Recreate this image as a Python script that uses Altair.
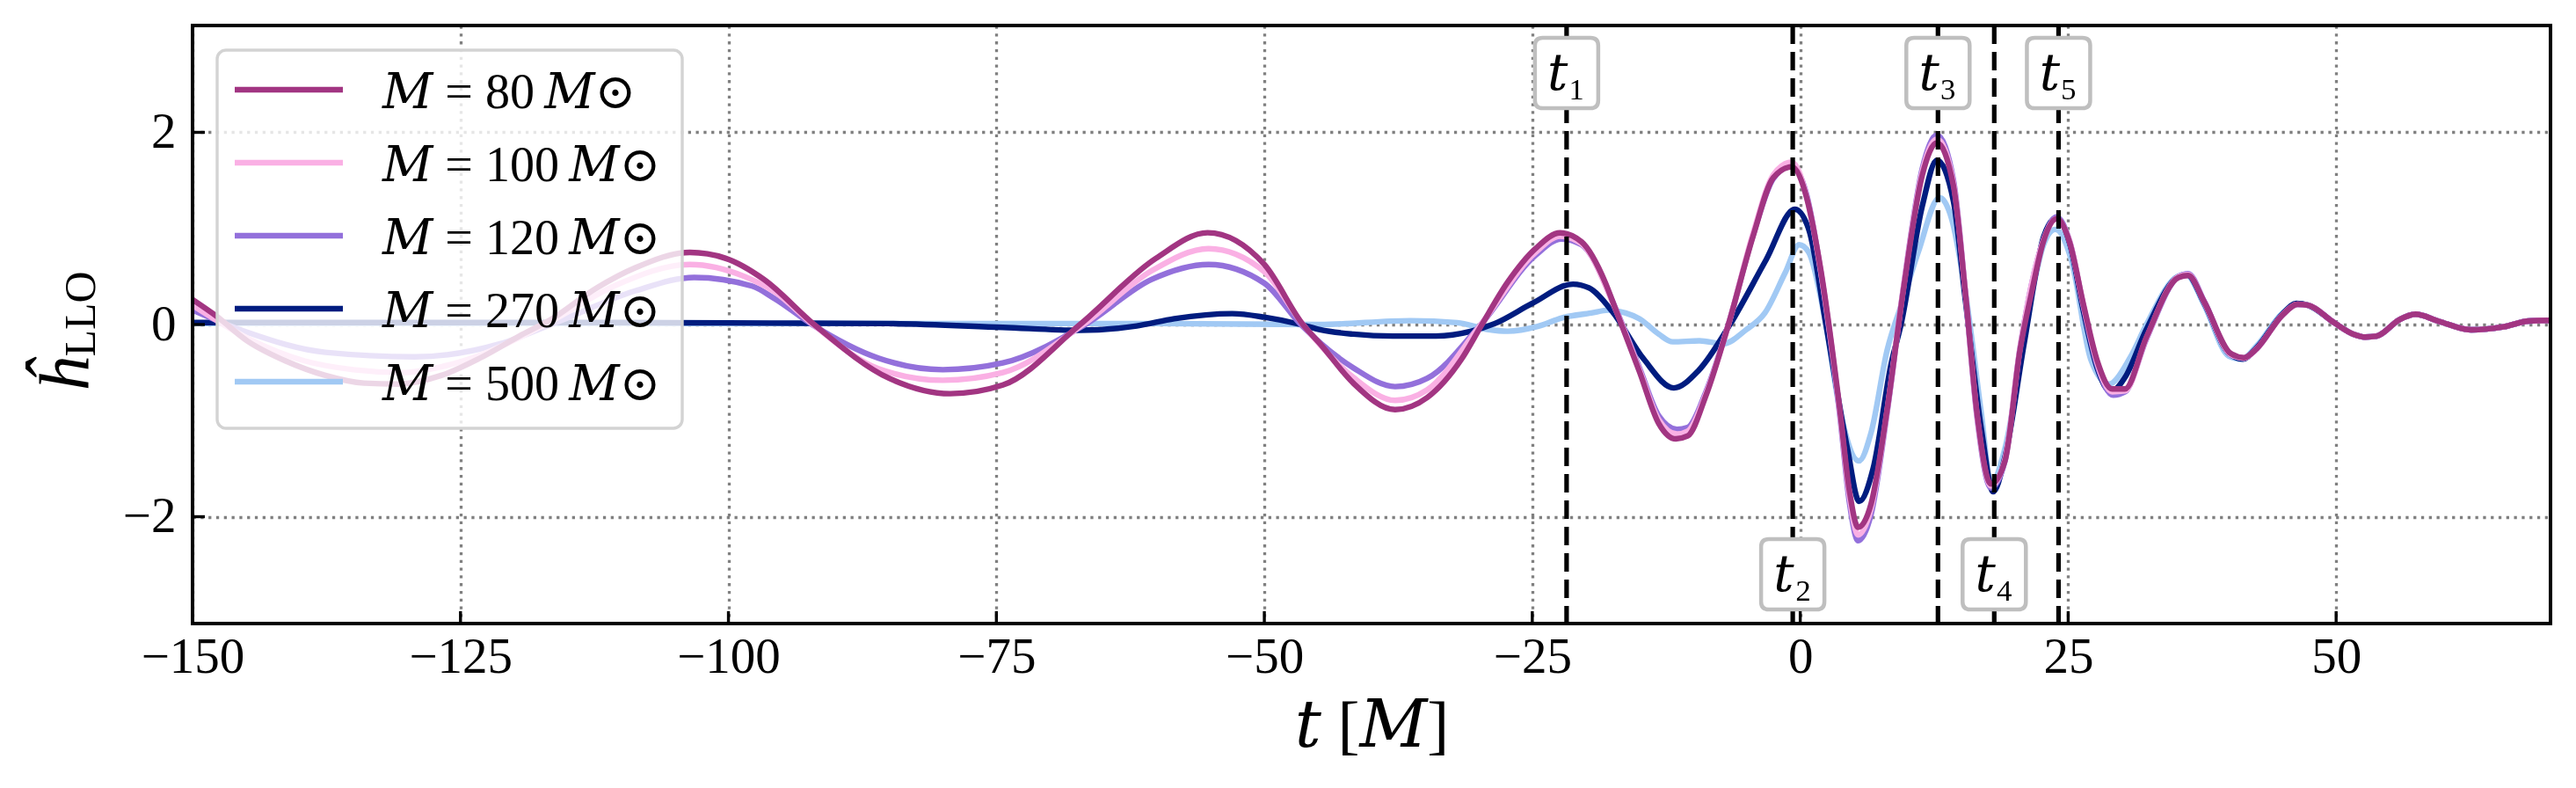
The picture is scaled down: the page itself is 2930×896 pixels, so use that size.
import altair as alt
import pandas as pd

# waveforms: t in units of M, normalised strain h
t_80 = [-150, -147.8, -144.9, -141.3, -137.6, -134.0, -130.8, -126.8, -123.2, -119.5, -116.6,
        -112.3, -108.7, -103.6, -100.3, -96.7, -92.0, -85.0, -79.3, -74.4, -67.2, -60.1, -55.3,
        -50.0, -46.4, -44.8, -41.7, -37.8, -34.8, -31.6, -29.8, -27.3, -24.7, -22.4, -20.4,
        -18.2, -17.2, -15.0, -13.2, -11.6, -10.5, -8.8, -6.7, -4.4, -2.5, -0.8, 0.6, 1.9, 3.7,
        4.6, 5.4, 6.6, 8.1, 9.6, 11.4, 12.75, 14.3, 15.4, 16.5, 17.8, 19.1, 20.5, 21.6, 22.7,
        23.9, 25.15, 26.4, 27.7, 29.1, 30.3, 32.3, 35.3, 36.2, 37.7, 40.15, 41.4, 42.6, 45.0,
        46.4, 47.4, 49.8, 51.6, 52.7, 53.8, 55.9, 57.4, 59.5, 62.6, 65.6, 68.0, 70.0]
h_80 = [0.26, 0.09, -0.17, -0.38, -0.53, -0.61, -0.62, -0.53, -0.35, -0.12, 0.05,
        0.38, 0.59, 0.75, 0.69, 0.47, 0.0, -0.56, -0.72, -0.63, 0.0, 0.69, 0.955,
        0.625, 0.0, -0.2, -0.61, -0.886, -0.76, -0.36, -0.02, 0.44, 0.79, 0.954, 0.86,
        0.44, 0.15, -0.49, -1.03, -1.19, -1.16, -0.74, 0.0, 0.92, 1.53, 1.64, 1.32, 0.58, -0.89,
        -1.74, -2.11, -1.87, -0.89, 0.34, 1.56, 1.89, 1.44, 0.34, -0.93, -1.66, -1.42, -0.27, 0.34, 0.87,
        1.1, 0.85, 0.22, -0.375, -0.67, -0.67, -0.13, 0.49, 0.51, 0.235, -0.3, -0.345, -0.25, 0.1,
        0.21, 0.2, 0.02, -0.1, -0.13, -0.12, 0.05, 0.107, 0.037, -0.055, -0.024, 0.037, 0.043]

t_100 = [-150, -144.9, -139.5, -135.0, -130.4, -126.8, -123.2, -116.6, -110.5, -103.6, -98.5,
         -95.7, -92.1, -86.0, -80.0, -74.4, -66.9, -60.5, -55.2, -50.0, -46.4, -41.7, -37.8,
         -34.8, -29.8, -24.7, -22.4, -20.4, -17.2, -15.0, -13.2, -11.5, -10.5, -8.8, -6.7, -4.4,
         -2.5, -0.8, 0.6, 1.9, 3.7, 4.6, 5.4, 6.6, 8.1, 9.6, 11.4, 12.75, 14.3, 15.4, 16.5, 17.8,
         19.1, 20.5, 22.7, 23.9, 25.15, 26.4, 27.7, 29.1, 30.3, 32.3, 35.3, 36.2, 37.7, 40.15,
         41.4, 42.6, 45.0, 46.4, 47.4, 49.8, 51.6, 52.7, 53.8, 55.9, 57.4, 59.5, 62.6, 65.6, 68.0, 70.0]
h_100 = [0.2, -0.14, -0.38, -0.47, -0.5, -0.44, -0.32, 0.03, 0.41, 0.625, 0.5,
         0.34, 0.0, -0.46, -0.58, -0.5, 0.0, 0.56, 0.79, 0.55, 0.0, -0.55, -0.79,
         -0.68, 0.0, 0.75, 0.92, 0.84, 0.15, -0.47, -0.99, -1.14, -1.11, -0.72, 0.0, 0.95,
         1.56, 1.69, 1.33, 0.56, -0.92, -1.8, -2.19, -1.92, -0.9, 0.36, 1.6, 1.93, 1.47, 0.34, -0.95, -1.68,
         -1.4, -0.25, 0.88, 1.1, 0.86, 0.21, -0.4, -0.7, -0.69, -0.14, 0.5, 0.52, 0.23, -0.31,
         -0.35, -0.25, 0.1, 0.21, 0.2, 0.02, -0.1, -0.13, -0.12, 0.05, 0.107, 0.037, -0.055, -0.024, 0.037, 0.043]

t_120 = [-150, -144.9, -137.6, -129.3, -121.3, -115.9, -108.7, -103.2, -97.8, -95.7, -92.2,
         -86.0, -80.0, -74.4, -66.7, -60.5, -55.2, -50.0, -46.6, -41.7, -37.8, -34.8, -29.8,
         -24.7, -22.3, -20.4, -17.2, -15.0, -13.2, -11.5, -10.5, -8.8, -6.7, -4.4, -2.5, -0.8,
         0.6, 1.9, 3.7, 4.6, 5.4, 6.6, 8.1, 9.6, 11.4, 12.75, 14.3, 15.4, 16.5, 17.8, 19.1, 20.5,
         22.7, 23.9, 25.15, 26.4, 27.7, 29.2, 30.3, 32.3, 35.3, 36.2, 37.7, 40.15, 41.4, 42.6,
         45.0, 46.4, 47.4, 49.8, 51.6, 52.7, 53.8, 55.9, 57.4, 59.5, 62.6, 65.6, 68.0, 70.0]
h_120 = [0.15, -0.08, -0.29, -0.336, -0.2, 0.03, 0.35, 0.49, 0.4, 0.27, 0.0,
         -0.35, -0.47, -0.4, 0.0, 0.47, 0.625, 0.43, 0.0, -0.45, -0.646, -0.56, 0.0,
         0.72, 0.89, 0.83, 0.16, -0.45, -0.95, -1.09, -1.07, -0.7, 0.0, 0.93, 1.52, 1.65,
         1.35, 0.56, -0.95, -1.86, -2.25, -1.98, -0.92, 0.36, 1.63, 1.97, 1.5, 0.34, -0.97, -1.7, -1.42, -0.25,
         0.88, 1.12, 0.86, 0.2, -0.42, -0.735, -0.7, -0.15, 0.5, 0.53, 0.24, -0.31, -0.35, -0.25,
         0.1, 0.21, 0.2, 0.02, -0.1, -0.13, -0.12, 0.05, 0.107, 0.037, -0.055, -0.024, 0.037, 0.043]

t_270 = [-150, -130, -110, -96, -85, -74.4, -67.2, -61.9, -58.4, -53.0, -50.0, -46.6, -44.8,
         -41.7, -38.0, -34.0, -30.7, -28.5, -25.0, -21.2, -19.7, -17.5, -14.6, -11.8, -9.5, -6.5,
         -3.2, -0.5, 0.8, 2.4, 4.4, 5.5, 6.8, 8.5, 9.4, 11.4, 12.75, 14.3, 15.4, 16.9, 18.0, 19.1,
         20.9, 22.7, 23.9, 25.15, 26.4, 27.7, 29.0, 30.3, 32.3, 35.3, 36.1, 37.7, 40.0, 41.3,
         42.6, 45.0, 46.3, 47.4, 49.8, 51.6, 52.7, 53.8, 55.9, 57.4, 59.5, 62.6, 65.6, 68.0, 70.0]
h_270 = [0.02, 0.02, 0.02, 0.015, 0.01, -0.03, -0.06, -0.015, 0.06, 0.113, 0.076, 0.0, -0.054,
         -0.1, -0.12, -0.12, -0.07, 0.01, 0.22, 0.42, 0.38, 0.13, -0.36, -0.66, -0.48, 0.01,
         0.67, 1.2, 0.99, 0.0, -1.29, -1.84, -1.5, -0.4, 0.0, 1.24, 1.71, 1.28, 0.26, -1.09, -1.74, -1.38,
         -0.19, 0.91, 1.11, 0.84, 0.15, -0.45, -0.7, -0.55, -0.05, 0.5, 0.52, 0.22, -0.3, -0.36,
         -0.24, 0.11, 0.22, 0.2, 0.02, -0.1, -0.13, -0.12, 0.05, 0.107, 0.037, -0.055, -0.024, 0.037, 0.043]

t_500 = [-150, -100, -60, -44.8, -36.4, -32.0, -29.2, -27.3, -24.5, -22.2, -19.5, -17.9, -16.3,
         -15.0, -13.2, -11.9, -9.4, -7.2, -5.0, -3.3, -1.4, -0.1, 0.8, 2.25, 3.7, 5.47, 6.6, 8.1,
         9.6, 11.0, 13.0, 14.1, 15.4, 16.9, 17.8, 19.1, 21.3, 22.7, 23.8, 25.3, 27.1, 28.8, 30.8,
         32.3, 35.2, 36.0, 37.7, 40.0, 41.2, 42.6, 45.0, 46.3, 47.4, 49.8, 51.6, 52.7, 53.8, 55.9,
         57.4, 59.5, 62.6, 65.6, 68.0, 70.0]
h_500 = [0.01, 0.01, 0.01, 0.0, 0.04, 0.02, -0.05, -0.07, -0.02, 0.07, 0.12, 0.15, 0.12,
         0.06, -0.1, -0.18, -0.17, -0.2, -0.05, 0.12, 0.54, 0.83, 0.75, 0.09, -0.89, -1.42, -1.13, -0.27,
         0.26, 0.75, 1.32, 1.11, 0.34, -0.93, -1.66, -1.29, 0.13, 0.83, 0.99, 0.67, -0.36, -0.62, -0.34,
         0.0, 0.5, 0.52, 0.2, -0.33, -0.36, -0.22, 0.12, 0.21, 0.2, 0.02, -0.1, -0.13, -0.12, 0.05,
         0.107, 0.037, -0.055, -0.024, 0.037, 0.043]

series_labels = ["𝑀 = 80\u2009𝑀⊙", "𝑀 = 100\u2009𝑀⊙", "𝑀 = 120\u2009𝑀⊙",
                 "𝑀 = 270\u2009𝑀⊙", "𝑀 = 500\u2009𝑀⊙"]
series_colors = ["#a23582", "#fab0e4", "#9370db", "#001c7f", "#a1c9f4"]
series_t = [t_80, t_100, t_120, t_270, t_500]
series_h = [h_80, h_100, h_120, h_270, h_500]

marker_t = [-21.8, -0.7, 12.85, 18.1, 24.1]
marker_labels = ["𝑡₁", "𝑡₂", "𝑡₃", "𝑡₄", "𝑡₅"]

x_ticks = [-150, -125, -100, -75, -50, -25, 0, 25, 50]
y_ticks = [-2, 0, 2]

W, H = 2682, 680
FONT = "Liberation Serif, DejaVu Serif"
LW = 6.4
BOX = "M-0.68,-1L0.68,-1Q0.9,-1 0.9,-0.78L0.9,0.78Q0.9,1 0.68,1L-0.68,1Q-0.9,1 -0.9,0.78L-0.9,-0.78Q-0.9,-1 -0.68,-1Z"

# heaviest first so the 80 Msun curve ends up drawn on top
curves = pd.concat([
    pd.DataFrame({"t": t, "h": h, "series": lab})
    for t, h, lab in reversed(list(zip(series_t, series_h, series_labels)))
], ignore_index=True)

markers = pd.DataFrame({
    "t": marker_t,
    "label": marker_labels,
    "side": ["top" if i % 2 == 0 else "bottom" for i in range(len(marker_t))],
})

legend_df = pd.DataFrame({"series": series_labels, "color": series_colors,
                          "row": list(range(len(series_labels)))})

x_scale = alt.Scale(domain=[-150, 70], nice=False, zero=False)
y_scale = alt.Scale(domain=[-3.112, 3.112], nice=False, zero=False)

grid_style = dict(grid=True, gridColor="#808080", gridDash=[3.3, 5.5], gridWidth=3.3,
                  ticks=False, tickSize=0, domain=False, labelFont=FONT,
                  labelFontSize=57, labelColor="black", format="d")

lines = alt.Chart(curves).mark_line(strokeWidth=LW, interpolate="monotone").encode(
    x=alt.X("t:Q", scale=x_scale,
            axis=alt.Axis(values=x_ticks, labelPadding=10, labelFlush=False,
                          title="𝑡 [𝑀]", titleFont=FONT, titleFontSize=75,
                          titleFontWeight="normal", titleColor="black",
                          titleY=139, titleBaseline="alphabetic", **grid_style)),
    y=alt.Y("h:Q", scale=y_scale,
            axis=alt.Axis(values=y_ticks, labelPadding=19, title=None, **grid_style)),
    color=alt.Color("series:N",
                    scale=alt.Scale(domain=series_labels, range=series_colors),
                    legend=None),
)

xticks = alt.Chart(pd.DataFrame({"v": x_ticks})).mark_rule(color="black", strokeWidth=3.4).encode(
    x=alt.X("v:Q", scale=x_scale), y=alt.value(H), y2=alt.value(H - 14))
yticks = alt.Chart(pd.DataFrame({"v": y_ticks})).mark_rule(color="black", strokeWidth=3.4).encode(
    y=alt.Y("v:Q", scale=y_scale), x=alt.value(0), x2=alt.value(14))

vlines = alt.Chart(markers).mark_rule(color="black", strokeWidth=5.2, strokeDash=[21, 9]).encode(
    x=alt.X("t:Q", scale=x_scale))

def marker_boxes(side, ypix):
    base = alt.Chart(markers).transform_filter(alt.datum.side == side)
    box = base.mark_point(shape=BOX, size=6400, filled=True, fill="white", opacity=1,
                          stroke="#bfbfbf", strokeWidth=4.5).encode(
        x=alt.X("t:Q", scale=x_scale), y=alt.value(ypix))
    txt = base.mark_text(font=FONT, fontSize=58, baseline="middle",
                         align="center", color="black").encode(
        x=alt.X("t:Q", scale=x_scale), y=alt.value(ypix + 2), text="label:N")
    return box + txt

one = pd.DataFrame({"a": [0]})

# legend drawn by hand: translucent rounded box, line swatches, labels
legend_box = alt.Chart(one).mark_rect(fill="white", fillOpacity=0.8, stroke="#d3d3d3",
                                      strokeWidth=3.4, cornerRadius=10).encode(
    x=alt.value(28), x2=alt.value(557), y=alt.value(28), y2=alt.value(458))
legend_base = alt.Chart(legend_df).transform_calculate(ly="73 + 83 * datum.row")
legend_lines = legend_base.mark_rule(strokeWidth=LW).encode(
    x=alt.value(48), x2=alt.value(171), y=alt.Y("ly:Q", scale=None),
    stroke=alt.Stroke("color:N", scale=None))
legend_text = legend_base.transform_calculate(ty="datum.ly + 21").mark_text(
    font=FONT, fontSize=56, align="left", baseline="alphabetic", color="black").encode(
    x=alt.value(216), y=alt.Y("ty:Q", scale=None), text="series:N")

ytitle_h = alt.Chart(one).mark_text(text="ĥ", font=FONT, fontSize=80, fontStyle="italic",
                                    angle=270, align="center", baseline="alphabetic",
                                    color="black").encode(x=alt.value(-119), y=alt.value(397))
ytitle_sub = alt.Chart(one).mark_text(text="LLO", font=FONT, fontSize=50, angle=270,
                                      align="center", baseline="alphabetic",
                                      color="black").encode(x=alt.value(-111), y=alt.value(328))

frame = alt.Chart(one).mark_rect(fill="white", fillOpacity=0, stroke="black", strokeWidth=4).encode(
    x=alt.value(0), x2=alt.value(W), y=alt.value(0), y2=alt.value(H))

chart = alt.layer(
    lines, vlines, marker_boxes("top", 54), marker_boxes("bottom", 624),
    legend_box, legend_lines, legend_text,
    xticks, yticks, ytitle_h, ytitle_sub, frame,
).properties(
    width=W, height=H,
    autosize=alt.AutoSizeParams(type="none"),
    padding={"left": 211, "top": 21, "right": 21, "bottom": 180},
).configure_view(stroke=None).configure(background="white")

chart.save("out.html", embed_options={"renderer": "svg", "actions": False})
